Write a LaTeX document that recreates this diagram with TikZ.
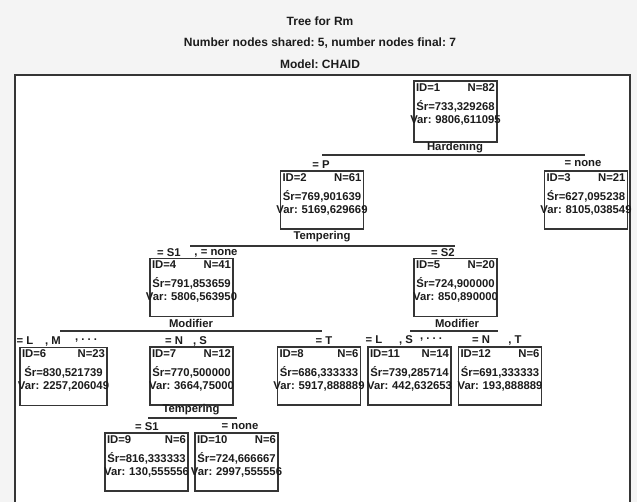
\documentclass[tikz,border=0pt]{standalone}
\usepackage{fontspec}
\setmainfont{Liberation Sans}
\usepackage{tikz}
\usetikzlibrary{positioning}

\definecolor{boxline}{HTML}{353535}
\definecolor{ink}{HTML}{1C1C1C}
\definecolor{paper}{HTML}{F4F4F4}
\frenchspacing

\begin{document}
\begin{tikzpicture}[x=1pt,y=-1pt,font=\bfseries\fontsize{11.3}{13}\selectfont,text=ink]
		\tikzstyle{box}=[rectangle, draw=boxline, line width=1.8pt, minimum width=83pt, minimum height=58pt, inner sep=0pt]
		\tikzstyle{info}=[text width=79pt, align=center, inner sep=0pt, anchor=north]
		\tikzstyle{var}=[inner sep=1pt]
		\tikzstyle{cond}=[inner sep=1pt]
		\tikzstyle{split}=[draw=boxline, line width=1.6pt]

		\useasboundingbox (0,0) rectangle (637,502);
		\fill[paper] (0,0) rectangle (637,502);
		\fill[white] (15,75) rectangle (630,510);
		\draw[boxline, line width=1.6pt] (15,510) -- (15,75) -- (630,75) -- (630,510);

		% title
		\node (title) at (320,21) {\fontsize{12}{14}\selectfont Tree for Rm};
		\node (sub1) at (320,43) {\fontsize{12}{14}\selectfont Number nodes shared: 5, number nodes final: 7};
		\node (sub2) at (320,64) {\fontsize{12}{14}\selectfont Model: CHAID};

		% nodes of the tree
		\node [box, minimum height=61pt] (n1) at (455.5,111.5) {};
		\node [info] (t1) at ([yshift=-3pt]n1.north) {\makebox[79pt]{ID=1\hfill N=82}\\[6pt] Śr=733,329268\\ \makebox[79pt]{Var: 9806,611095}};
		\node [box] (n2) at (322,200) {};
		\node [info] (t2) at ([yshift=-3pt]n2.north) {\makebox[79pt]{ID=2\hfill N=61}\\[6pt] Śr=769,901639\\ \makebox[79pt]{Var: 5169,629669}};
		\node [box] (n3) at (586,200) {};
		\node [info] (t3) at ([yshift=-3pt]n3.north) {\makebox[79pt]{ID=3\hfill N=21}\\[6pt] Śr=627,095238\\ \makebox[79pt]{Var: 8105,038549}};
		\node [box] (n4) at (191.5,287.5) {};
		\node [info] (t4) at ([yshift=-3pt]n4.north) {\makebox[79pt]{ID=4\hfill N=41}\\[6pt] Śr=791,853659\\ \makebox[79pt]{Var: 5806,563950}};
		\node [box] (n5) at (455.5,287.5) {};
		\node [info] (t5) at ([yshift=-3pt]n5.north) {\makebox[79pt]{ID=5\hfill N=20}\\[6pt] Śr=724,900000\\ \makebox[79pt]{Var: 850,890000}};
		\node [box, minimum width=87pt] (n6) at (63.5,376.5) {};
		\node [info, text width=83pt] (t6) at ([yshift=-3pt]n6.north) {\makebox[83pt]{ID=6\hfill N=23}\\[6pt] Śr=830,521739\\ \makebox[83pt]{Var: 2257,206049}};
		\node [box] (n7) at (191.5,376) {};
		\node [info] (t7) at ([yshift=-3pt]n7.north) {\makebox[79pt]{ID=7\hfill N=12}\\[6pt] Śr=770,500000\\ \makebox[79pt]{Var: 3664,75000}};
		\node [box] (n8) at (319,376) {};
		\node [info] (t8) at ([yshift=-3pt]n8.north) {\makebox[79pt]{ID=8\hfill N=6}\\[6pt] Śr=686,333333\\ \makebox[79pt]{Var: 5917,888889}};
		\node [box] (n11) at (409.5,376) {};
		\node [info] (t11) at ([yshift=-3pt]n11.north) {\makebox[79pt]{ID=11\hfill N=14}\\[6pt] Śr=739,285714\\ \makebox[79pt]{Var: 442,632653}};
		\node [box] (n12) at (500,376) {};
		\node [info] (t12) at ([yshift=-3pt]n12.north) {\makebox[79pt]{ID=12\hfill N=6}\\[6pt] Śr=691,333333\\ \makebox[79pt]{Var: 193,888889}};
		\node [box] (n9) at (146.5,462) {};
		\node [info] (t9) at ([yshift=-3pt]n9.north) {\makebox[79pt]{ID=9\hfill N=6}\\[6pt] Śr=816,333333\\ \makebox[79pt]{Var: 130,555556}};
		\node [box] (n10) at (236.5,462) {};
		\node [info] (t10) at ([yshift=-3pt]n10.north) {\makebox[79pt]{ID=10\hfill N=6}\\[6pt] Śr=724,666667\\ \makebox[79pt]{Var: 2997,555556}};

		% splits
		\node [var] (v1) at (455,148) {Hardening};
		\coordinate (s1l) at (322,155);
		\coordinate (s1r) at (585,155);
		\draw [split] (s1l) -- (s1r);
		\node [cond] (c2) at (321,165) {= P};
		\node [cond] (c3) at (583,164) {= none};

		\node [var] (v2) at (322,237) {Tempering};
		\coordinate (s2l) at (190,246);
		\coordinate (s2r) at (455,246);
		\draw [split] (s2l) -- (s2r);
		\node [cond] (c4) at (169,253) {= S1};
		\node [cond] (c4b) at (216,253) {, = none};
		\node [cond] (c5) at (443,253) {= S2};

		\node [var] (v4) at (191,323) {Modifier};
		\coordinate (s4l) at (60,331);
		\coordinate (s4r) at (322,331);
		\draw [split] (s4l) -- (s4r);
		\node [cond] (c6) at (25,341) {= L};
		\node [cond] (c6b) at (53,341) {, M};
		\node [cond] (c6c) at (86,341) {, . . .};
		\node [cond] (c7) at (174,341) {= N};
		\node [cond] (c7b) at (200,341) {, S};
		\node [cond] (c8) at (324,341) {= T};

		\node [var] (v5) at (457,323) {Modifier};
		\coordinate (s5l) at (410,331);
		\coordinate (s5r) at (498,331);
		\draw [split] (s5l) -- (s5r);
		\node [cond] (c11) at (374,340) {= L};
		\node [cond] (c11b) at (406,340) {, S};
		\node [cond] (c11c) at (431,340) {, . . .};
		\node [cond] (c12) at (481,340) {= N};
		\node [cond] (c12b) at (515,340) {, T};

		\node [var] (v7) at (191,410) {Tempering};
		\coordinate (s7l) at (148,418);
		\coordinate (s7r) at (237,418);
		\draw [split] (s7l) -- (s7r);
		\node [cond] (c9) at (147,427) {= S1};
		\node [cond] (c10) at (240,427) {= none};
	\end{tikzpicture}
\end{document}
